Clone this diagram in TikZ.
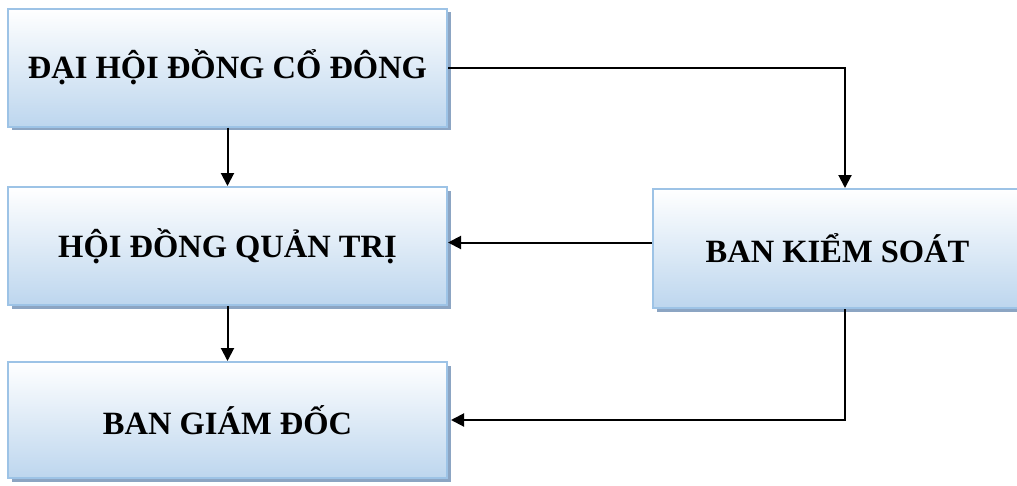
\documentclass[tikz,border=0pt]{standalone}
\usepackage{fontspec}
\setmainfont{Liberation Serif}
\usetikzlibrary{arrows.meta,shadows}
\definecolor{boxline}{RGB}{157,195,230}
\definecolor{boxfill}{RGB}{189,214,238}
\definecolor{boxshadow}{RGB}{140,165,195}

\begin{document}
\begin{tikzpicture}[
    x=1pt, y=-1pt,
    organ/.style={rectangle, draw=boxline, line width=2pt, top color=white, bottom color=boxfill,
        minimum width=439pt, minimum height=118pt, font=\fontsize{32.5}{38}\selectfont\bfseries,
        drop shadow={shadow xshift=3.5pt, shadow yshift=-3.5pt, fill=boxshadow, opacity=1}},
    link/.style={line width=2pt, -{Triangle[length=13pt,width=13pt]}}
]
\useasboundingbox (0,0) rectangle (1017,485);
\clip (0,0) rectangle (1017,485);

\node[organ] (dhdcd) at (227.5,67.5) {ĐẠI HỘI ĐỒNG CỔ ĐÔNG};
\node[organ] (hdqt) at (227.5,246) {HỘI ĐỒNG QUẢN TRỊ};
\node[organ, minimum height=116pt] (bgd) at (227.5,420) {BAN GIÁM ĐỐC};
\node[organ, minimum width=369pt, minimum height=119pt] (bks) at (837.5,248.5) {BAN KIỂM SOÁT};

% Quan hệ
\draw[link] (dhdcd) -- (hdqt);
\draw[link] (hdqt) -- (bgd);
\draw[link] (dhdcd.east) -| ([xshift=7.5pt]bks.north);
\draw[link] ([yshift=6pt]bks.west) -- ([yshift=6pt]bks.west -| hdqt.east);
\draw[link] ([xshift=7.5pt]bks.south) |- ([xshift=3pt]bgd.east);

\end{tikzpicture}
\end{document}
